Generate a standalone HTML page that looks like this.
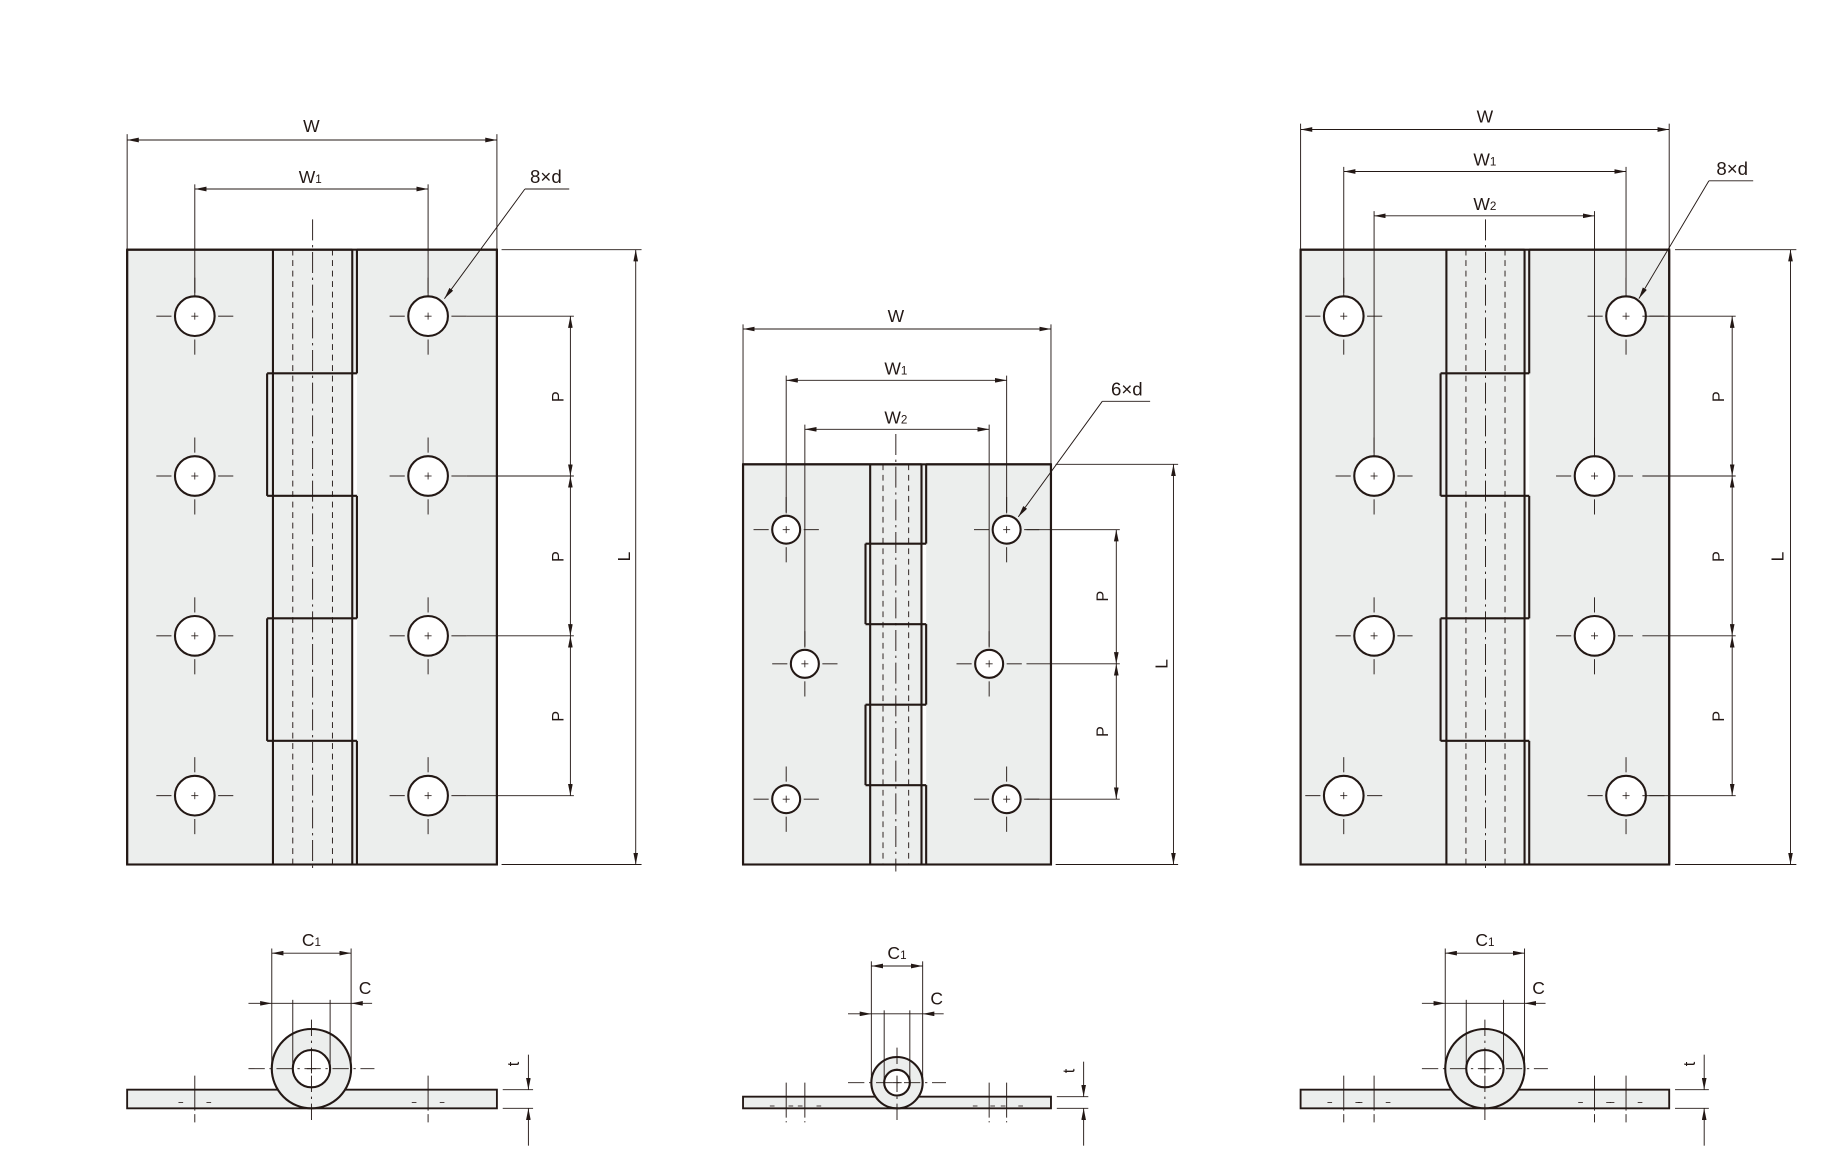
<!DOCTYPE html>
<html><head><meta charset="utf-8"><style>
html,body{margin:0;padding:0;background:#fff;width:1829px;height:1162px;overflow:hidden}
svg{display:block}
text{font-family:"Liberation Sans",sans-serif;fill:#231815}
</style></head><body>
<svg id="s" width="1829" height="1162" viewBox="0 0 1568 996" preserveAspectRatio="none" xmlns="http://www.w3.org/2000/svg">
<defs>
<marker id="a" viewBox="0 0 10 4" refX="10" refY="2" markerWidth="10" markerHeight="4" markerUnits="userSpaceOnUse" orient="auto-start-reverse"><path d="M0,0L10,2L0,4z" fill="#231815"/></marker>
</defs>
<g id="g" stroke="#231815" fill="none"></g>
</svg>
<script>
var g=document.getElementById('g'),NS='http://www.w3.org/2000/svg';
function el(t,a,txt){var e=document.createElementNS(NS,t);for(var k in a)e.setAttribute(k,a[k]);if(txt!==undefined)e.textContent=txt;g.appendChild(e);return e;}
function L(x1,y1,x2,y2,w,da){var o={x1:x1,y1:y1,x2:x2,y2:y2,'stroke-width':w||0.8};if(da)o['stroke-dasharray']=da;return el('line',o);}
function R(x,y,w,h,f,sw){return el('rect',{x:x,y:y,width:w,height:h,fill:f||'#eceeed','stroke-width':sw||1.8});}
function T(x,y,s,rot,sz){var o={x:x,y:y,'text-anchor':'middle',stroke:'none','font-size':sz||15};if(rot)o.transform='rotate(-90 '+x+' '+y+')';return el('text',o,s);}
function D(x1,y1,x2,y2){var e=L(x1,y1,x2,y2,0.8);e.setAttribute('marker-start','url(#a)');e.setAttribute('marker-end','url(#a)');}
function hole(x,y,r){el('circle',{cx:x,cy:y,r:r,fill:'#fff','stroke-width':1.8});L(x-r-16,y,x-r-3,y);L(x+r+3,y,x+r+16,y);L(x,y-r-16,x,y-r-3);L(x,y+r+3,x,y+r+16);L(x-3,y,x+3,y,0.7);L(x,y-3,x,y+3,0.7);}
function sub(t,x,y,s){var e=T(x,y,t);var ts=document.createElementNS(NS,'tspan');ts.setAttribute('font-size','10');ts.textContent=s;e.appendChild(ts);}
function hinge(o){
 var x0=o.x0,x1=o.x1,k0=o.k0,k1=o.k1,r0=o.r0,y0=o.y0,y1=o.y1,segs=o.segs,s=o.step;
 R(x0,y0,x1-x0,y1-y0,'#eceeed',0);
 L(x0,y0,x0,y1,1.8);L(x1,y0,x1,y1,1.8);L(x0,y0,k1,y0,1.8);L(r0,y0,x1,y0,1.8);L(x0,y1,k1,y1,1.8);L(r0,y1,x1,y1,1.8);
 var b=[y0].concat(segs).concat([y1]);
 L(k0,y0,k0,y1,1.8);L(k1,y0,k1,y1,1.8);
 for(var i=0;i<b.length-1;i++){
  if(i%2==0){L(r0,b[i],r0,b[i+1],1.8);}
  else{el('rect',{x:k1+0.9,y:b[i],width:r0-k1-0.9,height:b[i+1]-b[i],fill:'#fff',stroke:'none'});L(k0-s,b[i],k0-s,b[i+1],1.8);L(k0-s,b[i],r0,b[i],1.8);L(k0-s,b[i+1],r0,b[i+1],1.8);}
 }
 var c=(k0+k1)/2,dd=(k1-k0)/4;
 L(c,y0-26,c,y1+6,0.8,'18 4 2 4');L(c-dd,y0,c-dd,y1,0.8,'5 4');L(c+dd,y0,c+dd,y1,0.8,'5 4');
}
function side(o){
 var x0=o.x0,x1=o.x1,cx=o.cx,cy=o.cy,R1=o.R,r=o.r,py=o.py,ph=o.ph;
 R(x0,py,x1-x0,ph,'#eceeed',1.6);
 el('circle',{cx:cx,cy:cy,r:R1,fill:'#eceeed','stroke-width':1.8});
 el('circle',{cx:cx,cy:cy,r:r,fill:'#fff','stroke-width':1.8});
 L(cx-4,cy,cx+4,cy);L(cx,cy-4,cx,cy+4);
 L(cx-R1-20,cy,cx+R1+20,cy,0.8,'14 4 2 4');L(cx,cy-R1-8,cx,py+ph+12,0.8,'14 4 2 4');
 o.hx.forEach(function(x){L(x,py-12,x,py+ph+12,0.8,'30 3');L(x-14,py+ph/2+3,x-10,py+ph/2+3,0.7);L(x+10,py+ph/2+3,x+14,py+ph/2+3,0.7);});
 var a=cx-R1,b=cx+R1;L(a,o.c1y-4,a,cy,0.8);L(b,o.c1y-4,b,cy,0.8);D(a,o.c1y,b,o.c1y);sub('C',cx,o.c1y-6,'1');
 var e1=L(a-20,o.cy2,a,o.cy2);e1.setAttribute('marker-end','url(#a)');var e2=L(b+18,o.cy2,b,o.cy2);e2.setAttribute('marker-end','url(#a)');
 L(a,o.cy2,b,o.cy2);
 L(cx-r,o.cy2-3,cx-r,cy,0.8);L(cx+r,o.cy2-3,cx+r,cy,0.8);T(b+12,o.cy2-8,'C');
 var tx=o.tx;L(x1+5,py,tx+4,py);L(x1+5,py+ph,tx+4,py+ph);
 var t1=L(tx,py-30,tx,py);t1.setAttribute('marker-end','url(#a)');var t2=L(tx,py+ph+32,tx,py+ph);t2.setAttribute('marker-end','url(#a)');
 T(tx-8,py-22,'t',true,14);
}
function leader(tx,ty,u0,u1,hx,hy,lab){T(tx,ty,lab,false,16);L(u0,ty+5,u1,ty+5);var e=L(u0,ty+5,hx,hy);e.setAttribute('marker-end','url(#a)');}

hinge({x0:109,x1:426,k0:234,k1:302,r0:306,y0:214,y1:741,segs:[320,425,530,635],step:5});
[271,408,545,682].forEach(function(y){hole(167,y,17);hole(367,y,17);L(400,y,492,y,0.8);});
L(109,214,109,115);L(426,214,426,115);D(109,120,426,120);T(267,113,'W');
L(167,255,167,158);L(367,255,367,158);D(167,162,367,162);sub('W',266,157,'1');
leader(468,157,450,488,381,256,'8×d');
L(430,214,550,214);L(430,741,550,741);D(545,214,545,741);T(540,477,'L',true);
D(489,271,489,408);D(489,408,489,545);D(489,545,489,682);
T(483,340,'P',true,14);T(483,477,'P',true,14);T(483,614,'P',true,14);
side({x0:109,x1:426,cx:267,cy:916,R:34,r:16,py:934,ph:16,hx:[167,367],c1y:817,cy2:860,tx:453});

hinge({x0:637,x1:901,k0:746,k1:790,r0:794,y0:398,y1:741,segs:[466,535,604,673],step:4});
[[674,454],[674,685],[690,569],[863,454],[863,685],[848,569]].forEach(function(p){hole(p[0],p[1],12);});
[454,569,685].forEach(function(y){L(880,y,960,y,0.8);});
L(637,398,637,278);L(901,398,901,278);D(637,282,901,282);T(768,276,'W');
L(674,440,674,322);L(863,440,863,322);D(674,326,863,326);sub('W',768,321,'1');
L(690,555,690,364);L(848,555,848,364);D(690,368,848,368);sub('W',768,363,'2');
leader(966,339,945,986,873,443,'6×d');
L(905,398,1010,398);L(905,741,1010,741);D(1006,398,1006,741);T(1001,569,'L',true);
D(957,454,957,569);D(957,569,957,685);T(950,511,'P',true,14);T(950,627,'P',true,14);
side({x0:637,x1:901,cx:769,cy:928,R:22,r:11,py:940,ph:10,hx:[674,690,848,863],c1y:828,cy2:869,tx:929});

hinge({x0:1115,x1:1431,k0:1240,k1:1307,r0:1311,y0:214,y1:741,segs:[320,425,530,635],step:5});
[[1152,271],[1152,682],[1178,408],[1178,545],[1394,271],[1394,682],[1367,408],[1367,545]].forEach(function(p){hole(p[0],p[1],17);});
[271,408,545,682].forEach(function(y){L(1408,y,1488,y,0.8);});
L(1115,214,1115,106);L(1431,214,1431,106);D(1115,111,1431,111);T(1273,105,'W');
L(1152,255,1152,143);L(1394,255,1394,143);D(1152,147,1394,147);sub('W',1273,142,'1');
L(1178,392,1178,181);L(1367,392,1367,181);D(1178,185,1367,185);sub('W',1273,180,'2');
leader(1485,150,1465,1503,1405,256,'8×d');
L(1436,214,1540,214);L(1436,741,1540,741);D(1535,214,1535,741);T(1529,477,'L',true);
D(1485,271,1485,408);D(1485,408,1485,545);D(1485,545,1485,682);
T(1478,340,'P',true,14);T(1478,477,'P',true,14);T(1478,614,'P',true,14);
side({x0:1115,x1:1431,cx:1273,cy:916,R:34,r:16,py:934,ph:16,hx:[1152,1178,1367,1394],c1y:817,cy2:860,tx:1461});
</script>
</body></html>
